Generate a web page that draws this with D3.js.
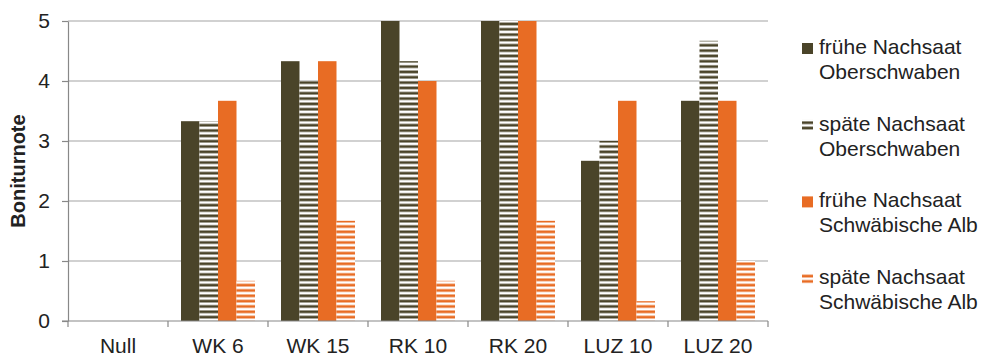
<!DOCTYPE html>
<html>
<head>
<meta charset="utf-8">
<script src="https://cdn.jsdelivr.net/npm/d3@7"></script>
<style>
  html, body { margin: 0; padding: 0; background: #fff; }
  svg { display: block; font-family: "Liberation Sans", Arial, sans-serif; }
</style>
</head>
<body>
<svg id="chart" width="994" height="358"></svg>
<script>
// Categories (treatments) on the x axis
const categories = ["Null", "WK 6", "WK 15", "RK 10", "RK 20", "LUZ 10", "LUZ 20"];

// Series: sowing time x location
const seriesNames = [
  "frühe Nachsaat Oberschwaben",
  "späte Nachsaat Oberschwaben",
  "frühe Nachsaat Schwäbische Alb",
  "späte Nachsaat Schwäbische Alb"
];
const fruehOberschwaben = [0, 3.33, 4.33, 5, 5, 2.67, 3.67];
const spaetOberschwaben = [0, 3.33, 4, 4.33, 5, 3, 4.67];
const fruehAlb = [0, 3.67, 4.33, 4, 5, 3.67, 3.67];
const spaetAlb = [0, 0.67, 1.67, 0.67, 1.67, 0.33, 1];

const yTicks = [0, 1, 2, 3, 4, 5];
const yTitle = "Boniturnote";

const seriesValues = [fruehOberschwaben, spaetOberschwaben, fruehAlb, spaetAlb];
const dark = "#4a4429";
const orange = "#e86c24";
const seriesStyle = [
  { color: dark, striped: false },
  { color: dark, striped: true },
  { color: orange, striped: false },
  { color: orange, striped: true }
];

const svg = d3.select("#chart");
const plot = { left: 68, right: 768, top: 21, bottom: 321 };
const labelSize = 21;

// Horizontal stripe patterns for the late-sowing series
const defs = svg.append("defs");
seriesStyle.forEach((s, i) => {
  if (!s.striped) return;
  const p = defs.append("pattern")
    .attr("id", "stripe" + i)
    .attr("patternUnits", "userSpaceOnUse")
    .attr("width", 10).attr("height", 5.33);
  p.append("rect").attr("width", 10).attr("height", 5.33).attr("fill", "#fff");
  p.append("rect").attr("y", 1.3).attr("width", 10).attr("height", 2.7).attr("fill", s.color);
});
const fillOf = i => seriesStyle[i].striped ? `url(#stripe${i})` : seriesStyle[i].color;

const x = d3.scaleBand().domain(categories).range([plot.left, plot.right]);
const inner = d3.scaleBand().domain(d3.range(seriesNames.length))
  .range([x.bandwidth() * 0.13, x.bandwidth() * 0.87]);
const y = d3.scaleLinear().domain([0, 5]).range([plot.bottom, plot.top]);

// Gridlines
svg.append("g").selectAll("line")
  .data(yTicks.filter(t => t > 0))
  .join("line")
  .attr("x1", plot.left).attr("x2", plot.right)
  .attr("y1", d => y(d)).attr("y2", d => y(d))
  .attr("stroke", "#a3a3a3").attr("stroke-width", 1.2);

// Bars
const groups = svg.append("g").selectAll("g")
  .data(categories)
  .join("g")
  .attr("transform", d => `translate(${x(d)},0)`);
groups.selectAll("rect")
  .data((c, ci) => seriesValues.map((vals, si) => ({ si, v: vals[ci] })))
  .join("rect")
  .attr("x", d => inner(d.si))
  .attr("width", inner.bandwidth())
  .attr("y", d => y(d.v))
  .attr("height", d => y(0) - y(d.v))
  .attr("fill", d => fillOf(d.si));

// Y axis
const yAxis = svg.append("g")
  .attr("transform", `translate(${plot.left},0)`)
  .call(d3.axisLeft(y).tickValues(yTicks).tickSize(6).tickSizeOuter(0).tickPadding(12).tickFormat(d3.format("d")));
yAxis.select(".domain").attr("stroke", "#888").attr("stroke-width", 1.2);
yAxis.selectAll(".tick line").attr("stroke", "#888").attr("stroke-width", 1.2);
yAxis.selectAll(".tick text").attr("font-size", labelSize).attr("fill", "#222")
  .attr("font-family", "Liberation Sans, Arial, sans-serif");

// X axis with ticks between categories
const xAxis = svg.append("g").attr("transform", `translate(0,${plot.bottom})`);
xAxis.append("line")
  .attr("x1", plot.left - 6).attr("x2", plot.right)
  .attr("stroke", "#888").attr("stroke-width", 1.2);
xAxis.selectAll("line.sep")
  .data(categories.map(c => x(c)).concat([plot.right]))
  .join("line").attr("class", "sep")
  .attr("x1", d => d).attr("x2", d => d)
  .attr("y1", 0).attr("y2", 6)
  .attr("stroke", "#888").attr("stroke-width", 1.2);
xAxis.selectAll("text")
  .data(categories)
  .join("text")
  .attr("x", d => x(d) + x.bandwidth() / 2)
  .attr("y", 32)
  .attr("text-anchor", "middle")
  .attr("font-size", labelSize).attr("fill", "#222")
  .text(d => d);

// Y axis title
svg.append("text")
  .attr("transform", `translate(25,${(plot.top + plot.bottom) / 2}) rotate(-90)`)
  .attr("text-anchor", "middle")
  .attr("font-size", 20).attr("font-weight", "bold").attr("fill", "#222")
  .text(yTitle);

// Legend
const legend = svg.append("g").attr("transform", "translate(802,0)");
const legendItems = legend.selectAll("g")
  .data(seriesNames)
  .join("g")
  .attr("transform", (d, i) => `translate(0,${54 + i * 76.7})`);
legendItems.append("rect")
  .attr("x", 0).attr("y", -11).attr("width", 11).attr("height", 11)
  .attr("fill", (d, i) => fillOf(i));
legendItems.append("text")
  .attr("x", 17).attr("y", 0)
  .attr("font-size", labelSize).attr("fill", "#222")
  .each(function (d) {
    const parts = d.split(" ");
    const t = d3.select(this);
    t.append("tspan").attr("x", 17).attr("dy", 0).text(parts.slice(0, 2).join(" "));
    t.append("tspan").attr("x", 17).attr("dy", 25).text(parts.slice(2).join(" "));
  });
</script>
</body>
</html>
